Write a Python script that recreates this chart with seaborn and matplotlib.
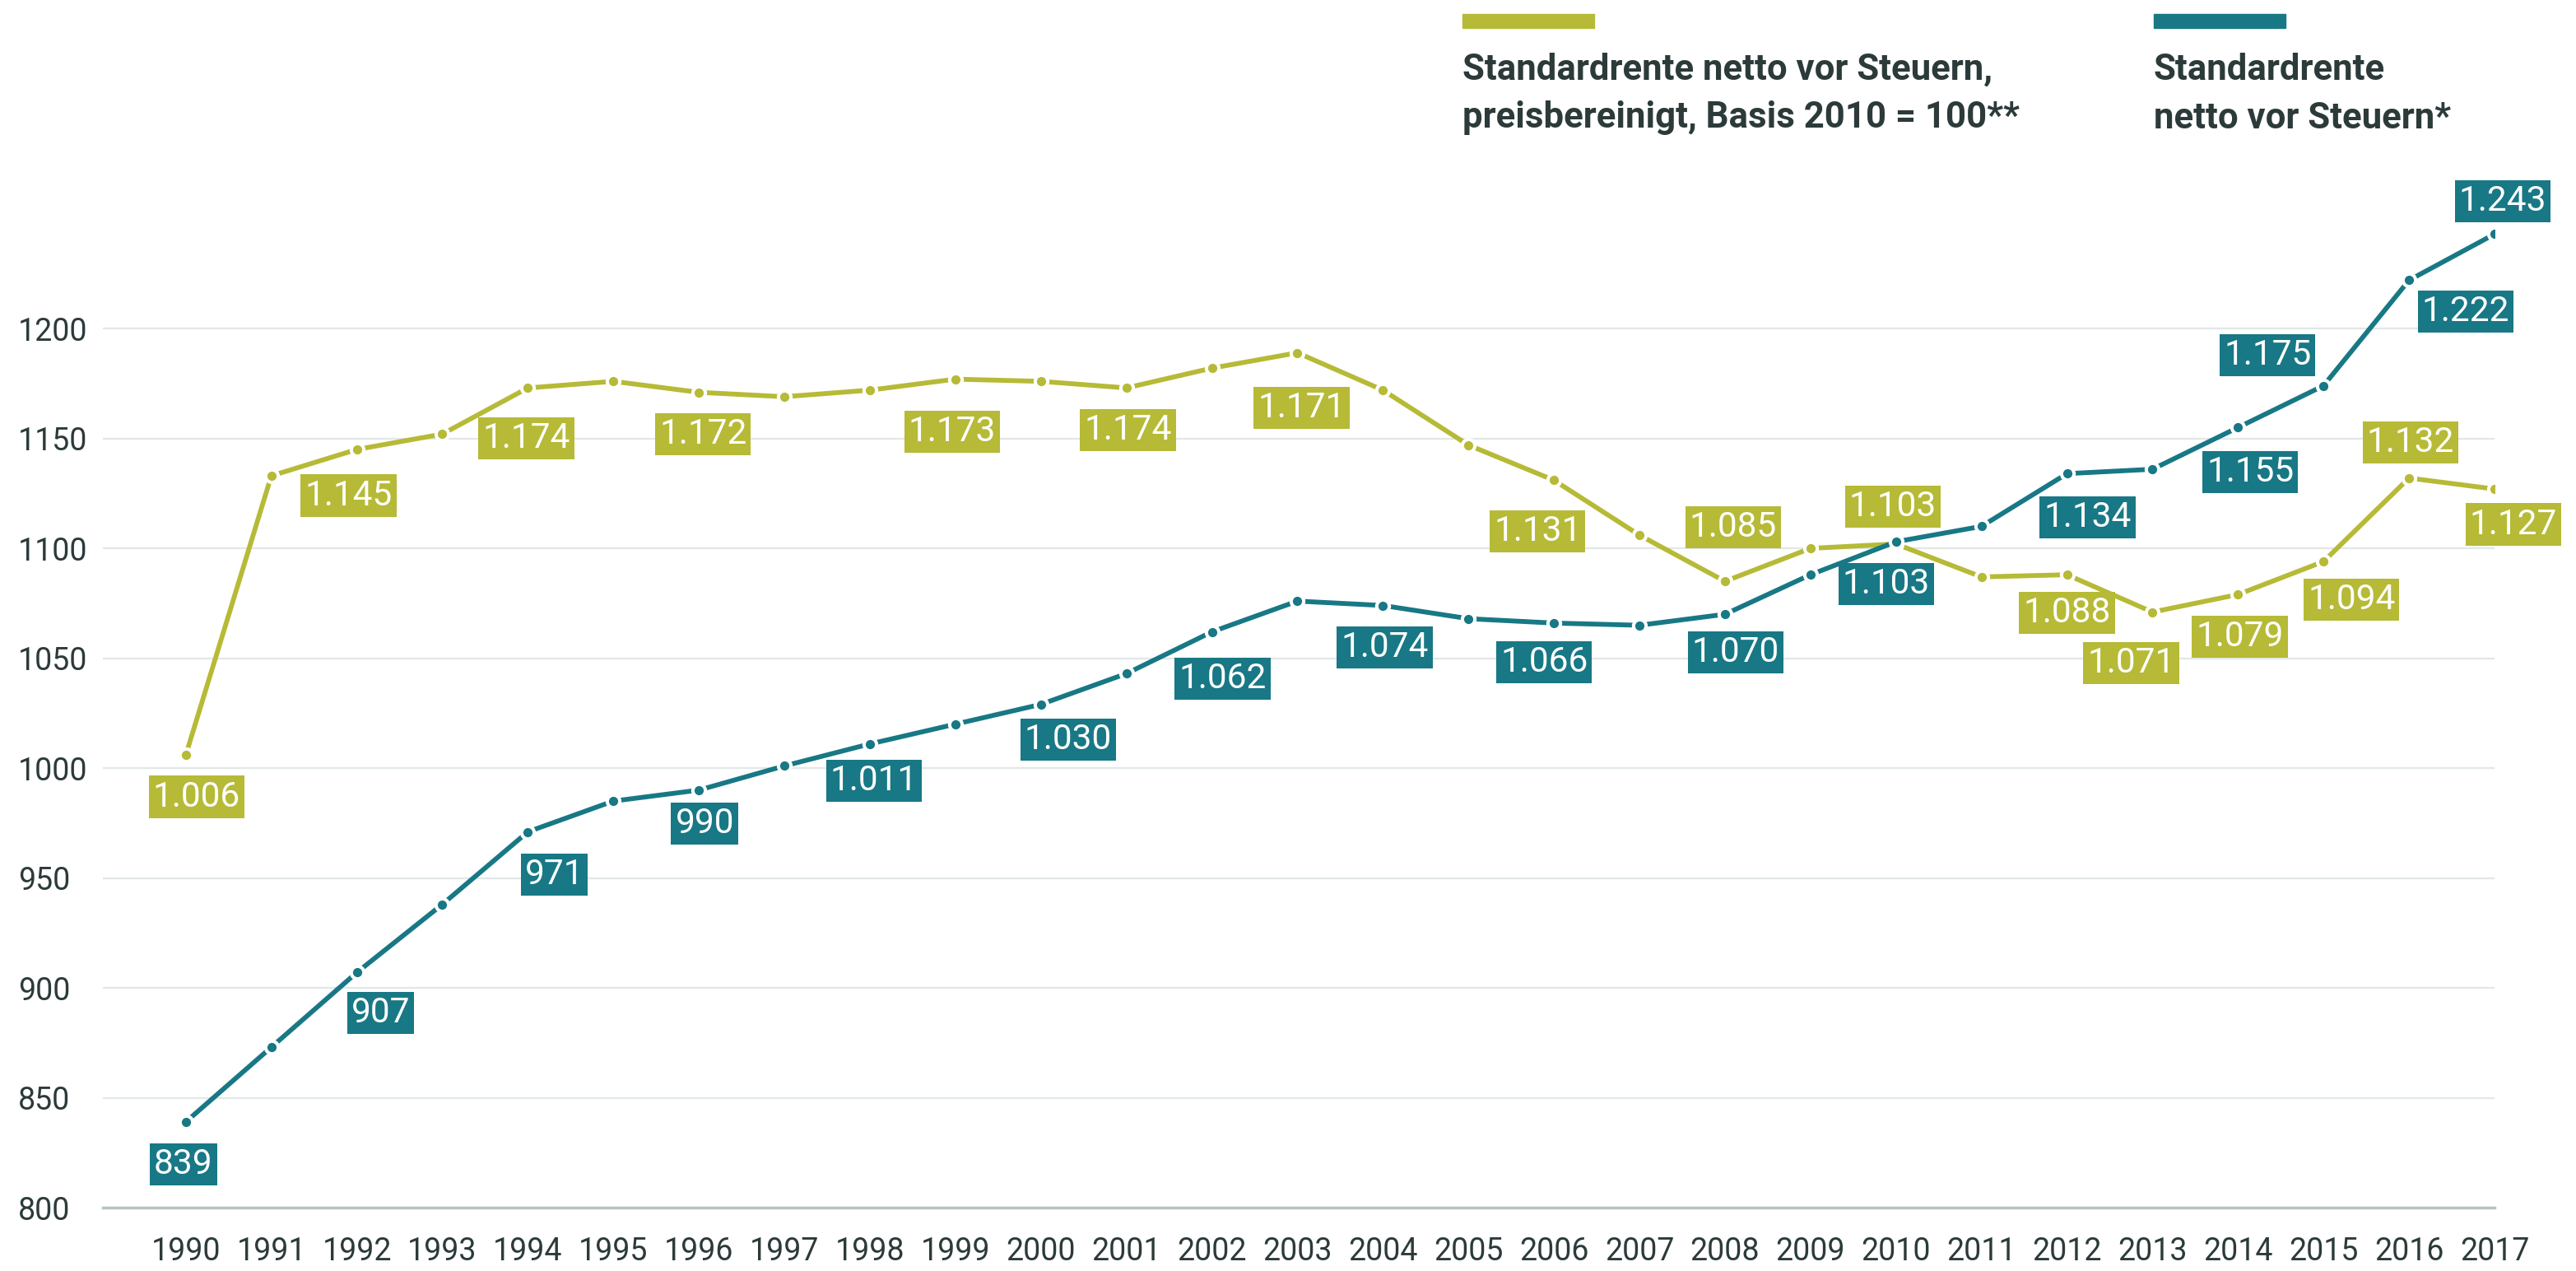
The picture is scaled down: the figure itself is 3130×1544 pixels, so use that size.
import matplotlib
matplotlib.use("Agg")
import matplotlib.pyplot as plt
from matplotlib.patches import Rectangle
import numpy as np
import pandas as pd
import seaborn as sns

# data
years = list(range(1990, 2018))
real_pension = [1006, 1133, 1145, 1152, 1173, 1176, 1171, 1169, 1172, 1177,
                1176, 1173, 1182, 1189, 1172, 1147, 1131, 1106, 1085, 1100,
                1102, 1087, 1088, 1071, 1079, 1094, 1132, 1127]
nominal_pension = [839, 873, 907, 938, 971, 985, 990, 1001, 1011, 1020,
                   1029, 1043, 1062, 1076, 1074, 1068, 1066, 1065, 1070, 1088,
                   1103, 1110, 1134, 1136, 1155, 1174, 1222, 1243]

real_label_years = [1990, 1992, 1994, 1996, 1999, 2001, 2003, 2006, 2008, 2010,
                    2012, 2013, 2014, 2015, 2016, 2017]
real_label_texts = ["1.006", "1.145", "1.174", "1.172", "1.173", "1.174", "1.171",
                    "1.131", "1.085", "1.103", "1.088", "1.071", "1.079", "1.094",
                    "1.132", "1.127"]
nominal_label_years = [1990, 1992, 1994, 1996, 1998, 2000, 2002, 2004, 2006, 2008,
                       2010, 2012, 2014, 2015, 2016, 2017]
nominal_label_texts = ["839", "907", "971", "990", "1.011", "1.030", "1.062", "1.074",
                       "1.066", "1.070", "1.103", "1.134", "1.155", "1.175", "1.222",
                       "1.243"]

series_names = ["Standardrente netto vor Steuern,\npreisbereinigt, Basis 2010 = 100**",
                "Standardrente\nnetto vor Steuern*"]

# label offsets from their point, in pixels (x right, y down)
real_offsets = [(13, 51), (-10, 56), (-2, 61), (5, 51), (-4, 64), (2, 51), (5, 67),
                (-20, 62), (10, -66), (-4, -45), (0, 46), (-26, 62), (2, 51),
                (34, 46), (2, -43), (23, 43)]
nominal_offsets = [(-3, 52), (29, 49), (32, 52), (7, 41), (5, 45), (33, 43), (13, 57),
                   (2, 51), (-12, 48), (13, 46), (-12, 51), (25, 53), (15, 54),
                   (-68, -37), (69, 38), (10, -40)]

YELLOW = "#b6ba36"
TEAL = "#187885"
DARK = "#2c3a3a"

sns.set_style("white")
plt.rcParams["font.family"] = ["Roboto", "DejaVu Sans"]

df = pd.DataFrame({
    "year": years * 2,
    "value": real_pension + nominal_pension,
    "series": [series_names[0]] * len(years) + [series_names[1]] * len(years),
})

fig = plt.figure(figsize=(31.3, 15.44), dpi=100)
ax = fig.add_axes([125 / 3130, 1 - 1467 / 1544, (3031 - 125) / 3130, (1467 - 239) / 1544])

sns.lineplot(data=df, x="year", y="value", hue="series", hue_order=series_names,
             palette=[YELLOW, TEAL], marker="o", markersize=11, markeredgecolor="white",
             markeredgewidth=2.9, linewidth=4.2, legend=False, ax=ax)

ax.set_xlim(1989.03, 2017)
ax.set_ylim(800, 1260)
ax.set_yticks(range(800, 1201, 50))
ax.set_xticks(years)
ax.set_xticklabels([str(y) for y in years])
ax.set_xlabel("")
ax.set_ylabel("")

ax.grid(axis="y", color="#e2e7e7", linewidth=1.6)
ax.set_axisbelow(True)
for s in ["top", "right", "left"]:
    ax.spines[s].set_visible(False)
ax.spines["bottom"].set_color("#b9c3c3")
ax.spines["bottom"].set_linewidth(2.5)

ax.tick_params(axis="x", length=6.5, width=1.5, color="#b9c3c3", direction="out",
               pad=19, labelsize=27, labelcolor=DARK)
ax.tick_params(axis="y", length=0, pad=74, labelsize=27, labelcolor=DARK)
for lab in ax.get_yticklabels():
    lab.set_horizontalalignment("left")


def put_labels(lab_years, texts, offsets, values, color):
    for yr, txt, (dx, dy) in zip(lab_years, texts, offsets):
        v = values[years.index(yr)]
        ax.annotate(txt, xy=(yr, v), xytext=(dx * 0.72, -dy * 0.72),
                    textcoords="offset points", ha="center", va="center",
                    fontsize=30.5, color="white", annotation_clip=False, zorder=5,
                    bbox=dict(boxstyle="square,pad=0.12", fc=color, ec="none"))


put_labels(real_label_years, real_label_texts, real_offsets, real_pension, YELLOW)
put_labels(nominal_label_years, nominal_label_texts, nominal_offsets, nominal_pension, TEAL)

# legend at top
for x0, color, name in [(1777, YELLOW, series_names[0]), (2617, TEAL, series_names[1])]:
    fig.patches.append(Rectangle((x0 / 3130, 1 - 34 / 1544), 160 / 3130, 17 / 1544,
                                 transform=fig.transFigure, color=color))
    fig.text(x0 / 3130, 1 - 64 / 1544, name, ha="left", va="top", fontsize=31.5,
             fontweight="bold", color=DARK, linespacing=1.5)

fig.savefig("out.png", dpi=100)
